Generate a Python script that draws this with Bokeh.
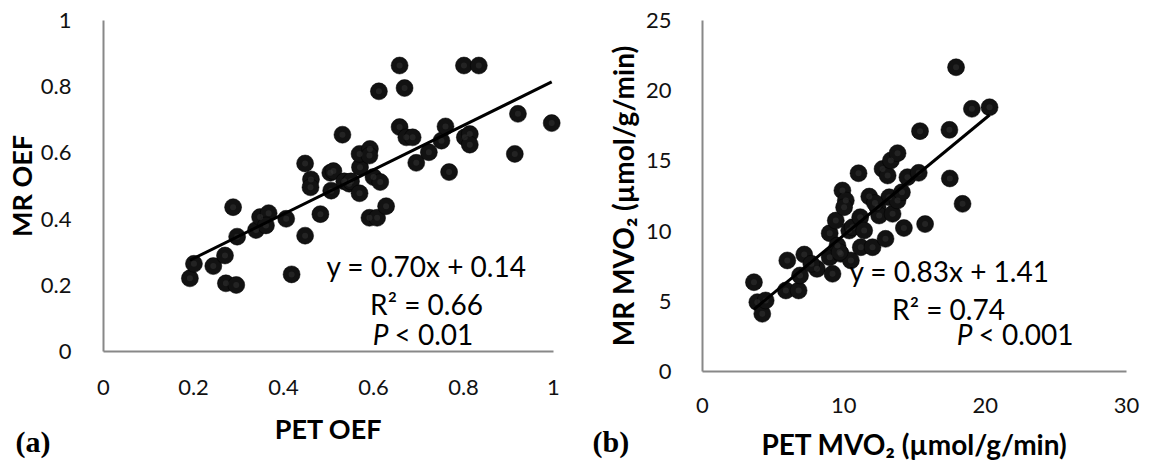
import numpy as np
from bokeh.plotting import figure
from bokeh.models import Range1d, Label, FixedTicker, LinearAxis
from bokeh.embed import file_html
from bokeh.resources import INLINE

# ---------------- data: panel (a) OEF ----------------
pet_oef = [0.192, 0.201, 0.244, 0.270, 0.272, 0.295, 0.288, 0.297, 0.339, 0.348,
           0.367, 0.361, 0.406, 0.418, 0.448, 0.448, 0.461, 0.460, 0.482, 0.504,
           0.511, 0.506, 0.531, 0.535, 0.546, 0.550, 0.569, 0.570, 0.569, 0.592,
           0.591, 0.600, 0.615, 0.591, 0.608, 0.628, 0.612, 0.658, 0.669, 0.658,
           0.673, 0.687, 0.695, 0.723, 0.751, 0.760, 0.768, 0.801, 0.834, 0.803,
           0.814, 0.814, 0.921, 0.914, 0.996]
mr_oef = [0.221, 0.265, 0.258, 0.290, 0.206, 0.201, 0.436, 0.347, 0.367, 0.406,
          0.418, 0.381, 0.401, 0.233, 0.350, 0.568, 0.520, 0.496, 0.415, 0.540,
          0.545, 0.486, 0.655, 0.514, 0.507, 0.514, 0.478, 0.557, 0.597, 0.612,
          0.592, 0.527, 0.512, 0.404, 0.404, 0.439, 0.786, 0.864, 0.796, 0.678,
          0.647, 0.647, 0.570, 0.602, 0.637, 0.680, 0.542, 0.864, 0.864, 0.647,
          0.657, 0.625, 0.718, 0.597, 0.690]
oef_ticks = [0, 0.2, 0.4, 0.6, 0.8, 1]
oef_tick_labels = ["0", "0.2", "0.4", "0.6", "0.8", "1"]
oef_fit_slope, oef_fit_intercept = 0.67, 0.147
oef_eq_text = "y = 0.70x + 0.14"
oef_r2_text = "R² = 0.66"
oef_p_text = "< 0.01"

# ---------------- data: panel (b) MVO2 ----------------
pet_mvo2 = [3.64, 3.88, 4.23, 4.47, 5.9, 6.0, 6.8, 6.9, 7.2, 8.1,
            7.7, 9.0, 9.43, 9.2, 9.0, 9.55, 9.9, 10.14, 10.02, 9.79,
            10.5, 10.38, 10.62, 11.04, 11.16, 11.44, 11.2, 11.8, 12.03, 12.39,
            12.5, 12.74, 12.95, 13.1, 13.33, 13.21, 13.45, 13.8, 13.8, 14.11,
            14.25, 14.5, 15.3, 15.39, 15.75, 17.5, 17.47, 17.94, 18.4, 19.06,
            20.31, 12.2, 9.7]
mr_mvo2 = [6.36, 4.94, 4.11, 5.06, 5.77, 7.91, 5.77, 6.84, 8.33, 7.31,
           7.67, 9.85, 10.75, 6.96, 8.14, 8.97, 12.89, 12.18, 11.70, 8.38,
           7.91, 10.04, 10.28, 14.12, 10.99, 10.04, 8.85, 12.46, 8.85, 11.70,
           11.11, 14.43, 9.45, 13.96, 15.03, 12.41, 11.23, 15.55, 12.18, 12.77,
           10.22, 13.84, 14.15, 17.12, 10.5, 13.75, 17.21, 21.67, 11.94, 18.71,
           18.82, 12.0, 8.5]
mvo2_xticks = [0, 10, 20, 30]
mvo2_xtick_labels = ["0", "10", "20", "30"]
mvo2_yticks = [0, 5, 10, 15, 20, 25]
mvo2_ytick_labels = ["0", "5", "10", "15", "20", "25"]
mvo2_fit_slope, mvo2_fit_intercept = 0.83, 1.41
mvo2_eq_text = "y = 0.83x + 1.41"
mvo2_r2_text = "R² = 0.74"
mvo2_p_text = "< 0.001"

# ---------------- layout (canvas pixels) ----------------
W, H = 1150, 464
A_X0, A_X1, A_Y0, A_Y1 = 103, 553, 351, 20      # panel (a) plot area
B_X0, B_X1, B_Y0, B_Y1 = 702, 1126, 371, 20     # panel (b) plot area
A_XMAX, A_YMAX = 1.0, 1.0
B_XMAX, B_YMAX = 30.0, 25.0

FONT = "Lato"
AXIS_COLOR = "#888888"

ax_scale = A_XMAX / (A_X1 - A_X0)
ay_scale = A_YMAX / (A_Y0 - A_Y1)
bx_scale = B_XMAX / (B_X1 - B_X0)
by_scale = B_YMAX / (B_Y0 - B_Y1)

p = figure(width=W, height=H, title=None,
           x_range=Range1d(-A_X0 * ax_scale, (W - A_X0) * ax_scale),
           y_range=Range1d((A_Y0 - H) * ay_scale, A_Y0 * ay_scale),
           x_axis_type=None, y_axis_type=None,
           output_backend="svg", toolbar_location=None,
           min_border_left=0, min_border_right=0, min_border_top=0, min_border_bottom=0)
p.extra_x_ranges = {"xb": Range1d(-B_X0 * bx_scale, (W - B_X0) * bx_scale)}
p.extra_y_ranges = {"yb": Range1d((B_Y0 - H) * by_scale, B_Y0 * by_scale)}
p.outline_line_color = None
p.background_fill_color = "white"
p.border_fill_color = "white"


def style_axis(ax, ticks, labels, title, label_standoff, title_standoff, title_size):
    ax.ticker = FixedTicker(ticks=ticks)
    ax.major_label_overrides = {t: l for t, l in zip(ticks, labels)}
    ax.axis_line_color = AXIS_COLOR
    ax.axis_line_width = 2
    ax.major_tick_line_color = None
    ax.minor_tick_line_color = None
    ax.major_label_text_font = FONT
    ax.major_label_text_font_size = "22px"
    ax.major_label_text_color = "#111111"
    ax.major_label_standoff = label_standoff
    ax.axis_label = title
    ax.axis_label_text_font = FONT
    ax.axis_label_text_font_style = "bold"
    ax.axis_label_text_font_size = title_size
    ax.axis_label_text_color = "#000000"
    ax.axis_label_standoff = title_standoff


# panel (a) axes
ax_ax = LinearAxis(fixed_location=0, bounds=(0, A_XMAX))
style_axis(ax_ax, oef_ticks, oef_tick_labels, "PET OEF", 22, 14, "27px")
p.add_layout(ax_ax, "below")
ay_ax = LinearAxis(fixed_location=0, bounds=(0, A_YMAX))
style_axis(ay_ax, oef_ticks, oef_tick_labels, "MR OEF", 26, 0, "27px")
p.add_layout(ay_ax, "left")

# panel (b) axes
bx_ax = LinearAxis(x_range_name="xb", y_range_name="yb", fixed_location=0, bounds=(0, B_XMAX))
style_axis(bx_ax, mvo2_xticks, mvo2_xtick_labels, "PET MVO₂ (µmol/g/min)", 20, 11, "28px")
p.add_layout(bx_ax, "below")
by_ax = LinearAxis(x_range_name="xb", y_range_name="yb", fixed_location=0, bounds=(0, B_YMAX))
style_axis(by_ax, mvo2_yticks, mvo2_ytick_labels, "MR MVO₂ (µmol/g/min)", 25, 3, "28px")
p.add_layout(by_ax, "left")


def add_points_and_fit(xs, ys, slope, intercept, **rng):
    p.scatter(xs, ys, size=17, fill_color="#121212", line_color="#000000", line_width=0.5, **rng)
    p.scatter(xs, ys, size=6, fill_color="#3a3a3a", line_color=None, fill_alpha=0.45, **rng)
    xa = np.array(xs)
    fx = np.array([xa.min(), xa.max()])
    p.line(fx, slope * fx + intercept, line_color="black", line_width=3, **rng)


def add_text(px, py, text, panel="a", size="28px", align="center", style="normal", font=FONT):
    if panel == "a":
        x, y = (px - A_X0) * ax_scale, (A_Y0 - py) * ay_scale
        rng = {}
    else:
        x, y = (px - B_X0) * bx_scale, (B_Y0 - py) * by_scale
        rng = dict(x_range_name="xb", y_range_name="yb")
    p.add_layout(Label(x=x, y=y, text=text, text_font=font, text_font_size=size,
                       text_align=align, text_baseline="alphabetic",
                       text_font_style=style, text_color="#000000", **rng))


add_points_and_fit(pet_oef, mr_oef, oef_fit_slope, oef_fit_intercept)
add_points_and_fit(pet_mvo2, mr_mvo2, mvo2_fit_slope, mvo2_fit_intercept,
                   x_range_name="xb", y_range_name="yb")

# panel (a) annotations
add_text(426, 265, oef_eq_text)
add_text(426, 303, oef_r2_text)
add_text(388, 333, "P", align="right", style="italic")
add_text(394, 333, oef_p_text, align="left")
add_text(15, 441, "(a)", size="30px", align="left", style="bold", font="Liberation Serif")

# panel (b) annotations
add_text(949, 270, mvo2_eq_text, panel="b")
add_text(948, 308, mvo2_r2_text, panel="b")
add_text(972, 333, "P", panel="b", align="right", style="italic")
add_text(978, 333, mvo2_p_text, panel="b", align="left")
add_text(592, 441, "(b)", panel="b", size="30px", align="left", style="bold",
         font="Liberation Serif")

open("out.html", "w").write(file_html(p, INLINE))
